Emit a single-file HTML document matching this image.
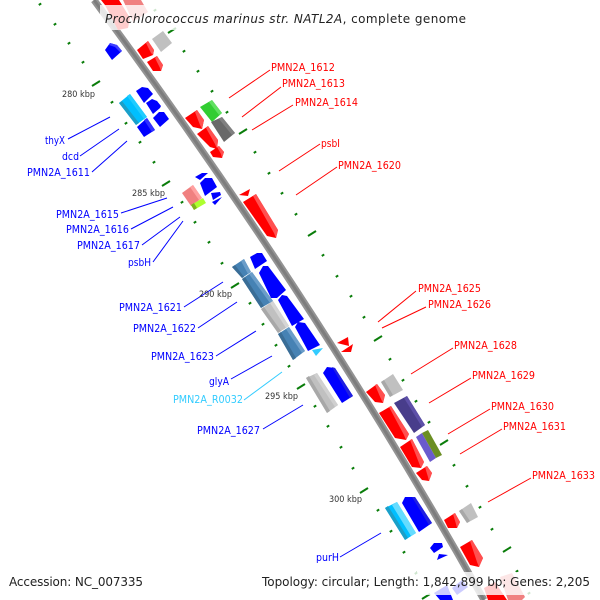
<!DOCTYPE html>
<html><head><meta charset="utf-8"><style>
html,body{margin:0;padding:0;background:#fff}
svg{display:block}
text{font-family:"DejaVu Sans","Liberation Sans",sans-serif}
.l{font-size:11px}
.r{fill:#ff0000}.b{fill:#0000ff}
.k{font-size:8.500px;fill:#333}
.t{font-size:12px;fill:#222}
</style></head><body>
<svg xmlns="http://www.w3.org/2000/svg" width="600" height="600" viewBox="0 0 600 600">
<rect width="600" height="600" fill="#fff"/>
<!-- minor ticks -->
<g stroke="#0a7d0a" stroke-width="2" stroke-linecap="butt" fill="none">
<path d="M38.800 5l2.400-1.600M53.800 25l2.400-1.600M67.800 44l2.400-1.600M81.800 63l2.400-1.600M110.800 103l2.400-1.600M124.800 124l2.400-1.600M138.800 143l2.400-1.600M152.800 163l2.400-1.600M180.800 203l2.400-1.600M193.800 223l2.400-1.600M207.800 243l2.400-1.600M220.800 264l2.400-1.600M248.800 304l2.400-1.600M261.800 325l2.400-1.600M274.800 346l2.400-1.600M287.800 367l2.400-1.600M313.800 407l2.400-1.600M326.800 427l2.400-1.600M339.800 448l2.400-1.600M351.800 469l2.400-1.600M376.800 511l2.400-1.600M389.800 532l2.400-1.600M402.800 553l2.400-1.600M414.800 574l2.400-1.600"/>
<path d="M153.800 11l2.400-1.600M182.800 52l2.400-1.600M196.800 72l2.400-1.600M210.800 92l2.400-1.600M225.800 113l2.400-1.600M253.800 153l2.400-1.600M267.800 174l2.400-1.600M280.800 194l2.400-1.600M294.800 215l2.400-1.600M321.800 256l2.400-1.600M335.800 277l2.400-1.600M349.800 297l2.400-1.600M362.800 318l2.400-1.600M388.800 360l2.400-1.600M401.800 381l2.400-1.600M414.800 402l2.400-1.600M427.800 423l2.400-1.600M452.800 466l2.400-1.600M465.800 487l2.400-1.600M478.800 508l2.400-1.600M490.800 530l2.400-1.600M515.800 572l2.400-1.600M527.800 594l2.400-1.600"/>
<path d="M92 86l8-5M162 186l8-5M231 288l8-5M297 389l8-5M360 493l8-5M422 599l8-5M168 33l8-5M239 134l8-5M308 236l8-5M374 341l8-5M440 445l8-5M503 552l8-5"/>
</g>
<!-- backbone -->
<path d="M94 0Q316 300 484 600" fill="none" stroke="#939393" stroke-width="7"/>
<path d="M94 0Q316 300 484 600" fill="none" stroke="#7d7d7d" stroke-width="3"/>
<!-- genes -->
<g>
<polygon fill="#ff0000" points="101,0 119,0 130,18 128,28 118,30 105,5"/>
<polygon fill="#f08080" points="123,0 141,0 148,12 133,22"/>
<polygon fill="#c0c0c0" points="152,39 163,31 172,43 161,52"/>
<polygon fill="#ff0000" points="137,50 148,41 154,50 153,55 143,59"/>
<polygon fill="#ff5050" points="148,41 154,50 153,55 151,53 146,43"/>
<polygon fill="#ff0000" points="147,62 157,56 163,65 161,71 153,71"/>
<polygon fill="#ff5050" points="157,56 163,65 161,71 160,68 155,58"/>
<polygon fill="#0000ff" points="105,50 110,43 117,45 122,51 112,60"/>
<polygon fill="#4040ff" points="110,43 117,45 122,51 120,52 115,47 109,45"/>
<polygon fill="#00bfff" points="119,103 130,94 147,117 136,125"/>
<polygon fill="#1b9fc8" points="119,103 122,101 139,123 136,125"/>
<polygon fill="#20ccff" points="127,96 130,94 147,117 144,119"/>
<polygon fill="#0000ff" points="137,127 147,118 155,130 144,137"/>
<polygon fill="#3030ff" points="147,118 155,130 152,132 144,120"/>
<polygon fill="#0000ff" points="136,91 142,87 148,88 153,94 144,103"/>
<polygon fill="#0000ff" points="146,103 152,99 157,101 161,106 160,108 153,114"/>
<polygon fill="#0000ff" points="153,118 159,112 164,112 169,119 160,127"/>
<polygon fill="#ff0000" points="185,118 197,110 204,120 202,129 193,127"/>
<polygon fill="#ff5050" points="197,110 204,120 202,129 200,125 195,112"/>
<polygon fill="#32cd32" points="200,107 212,100 222,113 212,122"/>
<polygon fill="#60e060" points="209,102 212,100 222,113 219,115"/>
<polygon fill="#696969" points="211,122 222,117 235,133 224,142"/>
<polygon fill="#808080" points="219,119 222,117 235,133 232,135"/>
<polygon fill="#ff0000" points="197,134 208,126 218,140 217,149 210,147"/>
<polygon fill="#ff5050" points="208,126 218,140 217,149 215,144 206,128"/>
<polygon fill="#ff0000" points="210,152 219,146 224,152 222,158 213,157"/>
<polygon fill="#ff5050" points="219,146 224,152 222,158 221,154 217,147"/>
<polygon fill="#0000ff" points="195,177 202,173 208,173 200,180"/>
<polygon fill="#0000ff" points="200,183 205,178 212,178 217,187 205,196"/>
<polygon fill="#0000ff" points="211,193 220,192 221,195 213,200"/>
<polygon fill="#0000ff" points="212,202 222,197 215,205"/>
<polygon fill="#f08080" points="182,193 193,185 202,198 191,206"/>
<polygon fill="#ffa0a0" points="190,187 193,185 202,198 199,200"/>
<polygon fill="#adff2f" points="191,205 203,198 206,203 194,210"/>
<polygon fill="#7fb020" points="191,205 194,203 197,208 194,210"/>
<polygon fill="#ff0000" points="239,195 250,189 248,196"/>
<polygon fill="#ff0000" points="243,202 256,194 278,230 276,238 267,236"/>
<polygon fill="#ff5050" points="256,194 278,230 276,238 274,233 253,196"/>
<polygon fill="#0000ff" points="250,257 257,253 262,253 267,261 255,269"/>
<polygon fill="#4682b4" points="232,267 244,259 251,272 242,278"/>
<polygon fill="#3a6d96" points="232,267 235,265 244,277 242,278"/>
<polygon fill="#6a9dc9" points="241,261 244,259 251,272 248,274"/>
<polygon fill="#4682b4" points="242,279 252,272 273,301 261,308"/>
<polygon fill="#3a6d96" points="242,279 245,277 264,306 261,308"/>
<polygon fill="#6a9dc9" points="249,274 252,272 273,301 270,303"/>
<polygon fill="#c0c0c0" points="261,309 273,301 289,326 278,333"/>
<polygon fill="#a8a8a8" points="261,309 264,307 281,331 278,333"/>
<polygon fill="#d5d5d5" points="270,303 273,301 289,326 286,328"/>
<polygon fill="#4682b4" points="278,334 289,327 305,351 293,360"/>
<polygon fill="#3a6d96" points="278,334 281,332 296,358 293,360"/>
<polygon fill="#6a9dc9" points="286,329 289,327 305,351 302,353"/>
<polygon fill="#0000ff" points="259,273 263,266 268,266 286,290 277,298 271,298"/>
<polygon fill="#0000ff" points="278,300 282,295 287,296 304,319 292,326"/>
<polygon fill="#0000ff" points="295,327 298,322 305,323 320,345 308,351"/>
<polygon fill="#33ccff" points="312,350 323,348 316,356"/>
<polygon fill="#ff0000" points="337,343 348,337 349,346"/>
<polygon fill="#ff0000" points="341,352 353,344 351,352"/>
<polygon fill="#c0c0c0" points="306,378 317,373 338,405 327,413"/>
<polygon fill="#a8a8a8" points="306,378 309,376 330,411 327,413"/>
<polygon fill="#d0d0d0" points="314,375 317,373 338,405 335,407"/>
<polygon fill="#0000ff" points="323,373 327,367 335,368 353,396 342,403"/>
<polygon fill="#2020e0" points="332,367 335,368 353,396 350,398"/>
<polygon fill="#ff0000" points="366,392 377,384 385,395 383,403 375,402"/>
<polygon fill="#ff5050" points="377,384 385,395 383,403 381,399 375,385"/>
<polygon fill="#c0c0c0" points="381,382 393,374 403,390 390,397"/>
<polygon fill="#a8a8a8" points="381,382 384,380 393,395 390,397"/>
<polygon fill="#ff0000" points="379,413 391,406 409,434 406,440 395,438"/>
<polygon fill="#ff5050" points="391,406 409,434 406,440 404,435 389,407"/>
<polygon fill="#483d8b" points="394,403 407,396 425,425 414,433"/>
<polygon fill="#5d50a8" points="404,398 407,396 425,425 422,427"/>
<polygon fill="#ff0000" points="400,447 412,439 424,462 421,468 412,467"/>
<polygon fill="#ff5050" points="412,439 424,462 421,468 419,463 410,440"/>
<polygon fill="#6a5acd" points="416,437 422,433 436,458 430,462"/>
<polygon fill="#6b8e23" points="422,433 428,430 442,455 436,458"/>
<polygon fill="#ff0000" points="416,473 427,466 432,473 429,481 422,480"/>
<polygon fill="#ff5050" points="427,466 432,473 429,481 428,477 425,467"/>
<polygon fill="#00bfff" points="385,508 397,502 416,533 405,540"/>
<polygon fill="#1b9fc8" points="385,508 388,506 408,538 405,540"/>
<polygon fill="#66dcff" points="392,505 397,502 416,533 411,536"/>
<polygon fill="#0000ff" points="402,503 405,497 415,497 432,523 419,532"/>
<polygon fill="#2020e0" points="412,497 415,497 432,523 429,525"/>
<polygon fill="#ff0000" points="444,520 455,513 460,522 457,528 448,528"/>
<polygon fill="#ff5050" points="455,513 460,522 457,528 456,524 453,514"/>
<polygon fill="#c0c0c0" points="459,511 471,503 478,517 467,523"/>
<polygon fill="#a8a8a8" points="459,511 462,509 470,521 467,523"/>
<polygon fill="#0000ff" points="430,548 434,543 442,543 443,547 434,553"/>
<polygon fill="#0000ff" points="437,560 439,554 448,555"/>
<polygon fill="#ff0000" points="460,547 472,540 483,558 479,567 470,565"/>
<polygon fill="#ff5050" points="472,540 483,558 479,567 477,562 470,541"/>
<polygon fill="#0000ff" points="434,593 447,585 453,600 440,600"/>
<polygon fill="#0000ff" points="452,588 462,580 468,587 457,595"/>
<polygon fill="#ff0000" points="484,588 495,582 507,600 488,600"/>
<polygon fill="#f08080" points="500,577 512,573 525,597 522,600 508,600"/>
</g>
<!-- leaders -->
<g stroke="#ff0000" stroke-width="1" fill="none">
<path d="M270 70L229 98M281 87L242 117M293 105L252 130M320 144L279 171M337 167L296 195M416 291L378 322M426 307L382 328M453 348L411 374M471 378L429 403M490 409L448 434M502 429L460 454M531 478L488 502"/>
</g>
<g stroke="#0000ff" stroke-width="1" fill="none">
<path d="M68 139L110 117M80 156L119 129M92 172L127 141M121 213L167 198M131 229L173 207M142 245L180 217M153 262L183 221M184 307L223 282M198 328L237 302M216 356L256 331M231 379L272 356M263 429L303 405M340 557L381 533"/>
</g>
<path d="M244 400L282 372" stroke="#33ccff" stroke-width="1" fill="none"/>
<!-- overlays -->
<rect x="100" y="5" width="372" height="25" fill="#fff" fill-opacity=".8"/>
<rect x="5" y="572" width="142" height="23" fill="#fff" fill-opacity=".8"/>
<rect x="258" y="572" width="337" height="23" fill="#fff" fill-opacity=".8"/>
<!-- labels -->
<g class="l r">
<text x="271" y="71" textLength="64" lengthAdjust="spacingAndGlyphs">PMN2A_1612</text>
<text x="282" y="87" textLength="63" lengthAdjust="spacingAndGlyphs">PMN2A_1613</text>
<text x="295" y="106" textLength="63" lengthAdjust="spacingAndGlyphs">PMN2A_1614</text>
<text x="321" y="147" textLength="19" lengthAdjust="spacingAndGlyphs">psbI</text>
<text x="338" y="169" textLength="63" lengthAdjust="spacingAndGlyphs">PMN2A_1620</text>
<text x="418" y="292" textLength="63" lengthAdjust="spacingAndGlyphs">PMN2A_1625</text>
<text x="428" y="308" textLength="63" lengthAdjust="spacingAndGlyphs">PMN2A_1626</text>
<text x="454" y="349" textLength="63" lengthAdjust="spacingAndGlyphs">PMN2A_1628</text>
<text x="472" y="379" textLength="63" lengthAdjust="spacingAndGlyphs">PMN2A_1629</text>
<text x="491" y="410" textLength="63" lengthAdjust="spacingAndGlyphs">PMN2A_1630</text>
<text x="503" y="430" textLength="63" lengthAdjust="spacingAndGlyphs">PMN2A_1631</text>
<text x="532" y="479" textLength="63" lengthAdjust="spacingAndGlyphs">PMN2A_1633</text>
</g>
<g class="l b">
<text x="45" y="144" textLength="20" lengthAdjust="spacingAndGlyphs">thyX</text>
<text x="62" y="160" textLength="17" lengthAdjust="spacingAndGlyphs">dcd</text>
<text x="27" y="176" textLength="63" lengthAdjust="spacingAndGlyphs">PMN2A_1611</text>
<text x="56" y="218" textLength="63" lengthAdjust="spacingAndGlyphs">PMN2A_1615</text>
<text x="66" y="233" textLength="63" lengthAdjust="spacingAndGlyphs">PMN2A_1616</text>
<text x="77" y="249" textLength="63" lengthAdjust="spacingAndGlyphs">PMN2A_1617</text>
<text x="128" y="266" textLength="23" lengthAdjust="spacingAndGlyphs">psbH</text>
<text x="119" y="311" textLength="63" lengthAdjust="spacingAndGlyphs">PMN2A_1621</text>
<text x="133" y="332" textLength="63" lengthAdjust="spacingAndGlyphs">PMN2A_1622</text>
<text x="151" y="360" textLength="63" lengthAdjust="spacingAndGlyphs">PMN2A_1623</text>
<text x="209" y="385" textLength="20" lengthAdjust="spacingAndGlyphs">glyA</text>
<text x="197" y="434" textLength="63" lengthAdjust="spacingAndGlyphs">PMN2A_1627</text>
<text x="316" y="561" textLength="23" lengthAdjust="spacingAndGlyphs">purH</text>
</g>
<text class="l" fill="#33ccff" x="173" y="403" textLength="70" lengthAdjust="spacingAndGlyphs">PMN2A_R0032</text>
<g class="k">
<text x="62" y="97" textLength="33" lengthAdjust="spacingAndGlyphs">280 kbp</text>
<text x="132" y="196" textLength="33" lengthAdjust="spacingAndGlyphs">285 kbp</text>
<text x="199" y="297" textLength="33" lengthAdjust="spacingAndGlyphs">290 kbp</text>
<text x="265" y="399" textLength="33" lengthAdjust="spacingAndGlyphs">295 kbp</text>
<text x="329" y="502" textLength="33" lengthAdjust="spacingAndGlyphs">300 kbp</text>
</g>
<text class="t" x="105" y="23" textLength="361" lengthAdjust="spacing"><tspan font-style="italic">Prochlorococcus marinus str. NATL2A</tspan>, complete genome</text>
<text class="t" x="9" y="586" textLength="134" lengthAdjust="spacing">Accession: NC_007335</text>
<text class="t" x="262" y="586" textLength="328" lengthAdjust="spacing">Topology: circular; Length: 1,842,899 bp; Genes: 2,205</text>
</svg>
</body></html>
